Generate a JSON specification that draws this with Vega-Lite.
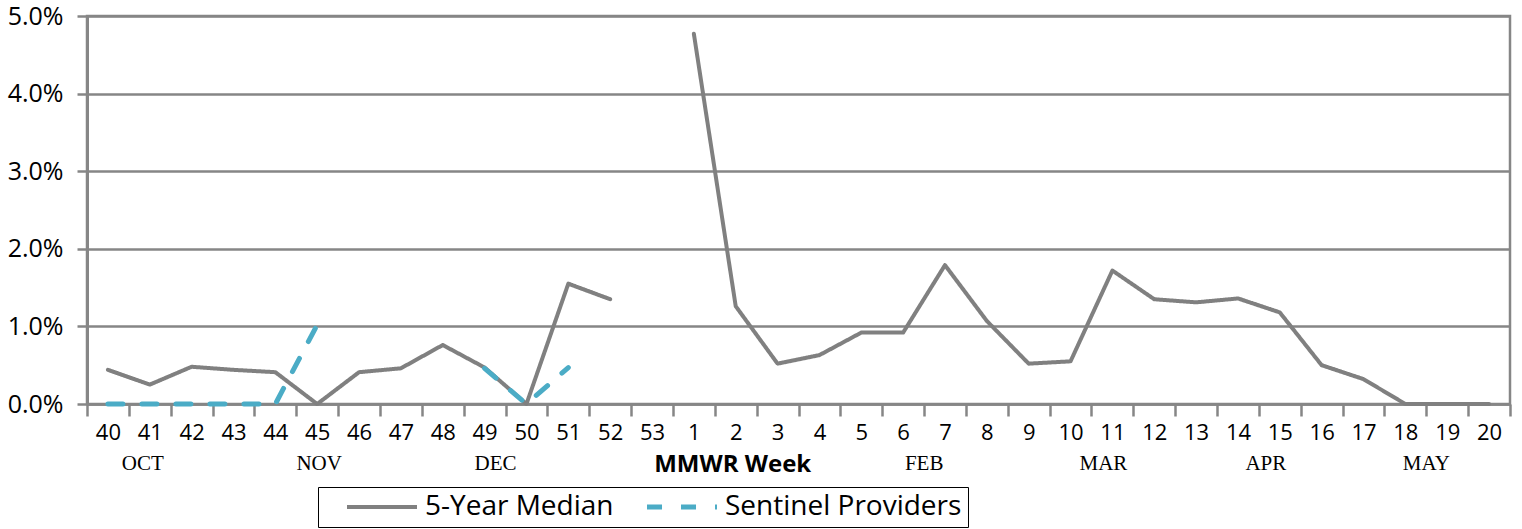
{
  "$schema": "https://vega.github.io/schema/vega-lite/v6.json",
  "width": 1423,
  "height": 388,
  "autosize": {"type": "none"},
  "padding": {"left": 87, "top": 16, "right": 12, "bottom": 125},
  "background": "white",
  "config": {
    "view": {"stroke": "#868686", "strokeWidth": 2.5},
    "font": "Open Sans",
    "legend": {"strokeColor": "black"}
  },
  "data": {
    "values": [
      {"week": "40", "median": 0.0044, "sentinel": 0},
      {"week": "41", "median": 0.0025, "sentinel": 0},
      {"week": "42", "median": 0.0048, "sentinel": 0},
      {"week": "43", "median": 0.0044, "sentinel": 0},
      {"week": "44", "median": 0.0041, "sentinel": 0},
      {"week": "45", "median": 0, "sentinel": 0.0102},
      {"week": "46", "median": 0.0041, "sentinel": null},
      {"week": "47", "median": 0.0046, "sentinel": null},
      {"week": "48", "median": 0.0076, "sentinel": null},
      {"week": "49", "median": 0.0047, "sentinel": 0.0046},
      {"week": "50", "median": 0, "sentinel": 0},
      {"week": "51", "median": 0.0155, "sentinel": 0.0047},
      {"week": "52", "median": 0.0135, "sentinel": null},
      {"week": "53", "median": null, "sentinel": null},
      {"week": "1", "median": 0.0477, "sentinel": null},
      {"week": "2", "median": 0.0126, "sentinel": null},
      {"week": "3", "median": 0.0052, "sentinel": null},
      {"week": "4", "median": 0.0063, "sentinel": null},
      {"week": "5", "median": 0.0092, "sentinel": null},
      {"week": "6", "median": 0.0092, "sentinel": null},
      {"week": "7", "median": 0.0179, "sentinel": null},
      {"week": "8", "median": 0.0107, "sentinel": null},
      {"week": "9", "median": 0.0052, "sentinel": null},
      {"week": "10", "median": 0.0055, "sentinel": null},
      {"week": "11", "median": 0.0172, "sentinel": null},
      {"week": "12", "median": 0.0135, "sentinel": null},
      {"week": "13", "median": 0.0131, "sentinel": null},
      {"week": "14", "median": 0.0136, "sentinel": null},
      {"week": "15", "median": 0.0118, "sentinel": null},
      {"week": "16", "median": 0.005, "sentinel": null},
      {"week": "17", "median": 0.0032, "sentinel": null},
      {"week": "18", "median": 0, "sentinel": null},
      {"week": "19", "median": 0, "sentinel": null},
      {"week": "20", "median": 0, "sentinel": null}
    ]
  },
  "resolve": {"scale": {"x": "independent"}, "axis": {"x": "independent"}},
  "layer": [
    {
      "transform": [{"fold": ["median", "sentinel"], "as": ["series", "pct"]}],
      "mark": {"type": "line", "strokeCap": "round", "strokeJoin": "round", "invalid": "break-paths-show-domains"},
      "encoding": {
        "x": {
          "field": "week",
          "type": "ordinal",
          "scale": {
            "type": "band",
            "paddingInner": 0,
            "paddingOuter": 0,
            "domain": ["40","41","42","43","44","45","46","47","48","49","50","51","52","53","1","2","3","4","5","6","7","8","9","10","11","12","13","14","15","16","17","18","19","20"]
          },
          "axis": {
            "title": null,
            "labelAngle": 0,
            "tickBand": "extent",
            "labelFont": "Open Sans",
            "labelFontSize": 22,
            "labelColor": "black",
            "labelPadding": 6,
            "tickSize": 12,
            "tickColor": "#868686",
            "tickWidth": 2.5,
            "domainColor": "#868686",
            "domainWidth": 2.5,
            "grid": false
          }
        },
        "y": {
          "field": "pct",
          "type": "quantitative",
          "scale": {"domain": [0, 0.05]},
          "axis": {
            "title": null,
            "values": [0, 0.01, 0.02, 0.03, 0.04, 0.05],
            "format": ".1%",
            "labelFont": "Open Sans",
            "labelFontSize": 25,
            "labelColor": "black",
            "labelPadding": 14,
            "tickSize": 10,
            "tickColor": "#868686",
            "tickWidth": 2.5,
            "domainColor": "#868686",
            "domainWidth": 3,
            "gridColor": "#868686",
            "gridWidth": 2.5
          }
        },
        "color": {
          "field": "series",
          "type": "nominal",
          "scale": {"domain": ["median", "sentinel"], "range": ["#808080", "#4BACC6"]},
          "legend": {
            "title": null,
            "orient": "none",
            "direction": "horizontal",
            "legendX": 231,
            "legendY": 471,
            "labelExpr": "datum.value == 'median' ? '5-Year Median' : 'Sentinel Providers'",
            "labelFont": "Open Sans",
            "labelFontSize": 28,
            "labelColor": "black",
            "labelLimit": 500,
            "labelOffset": 29,
            "symbolType": "M-6,0H6",
            "symbolSize": 136,
            "symbolStrokeWidth": 5,
            "symbolOffset": 44,
            "columnPadding": 10,
            "padding": 6,
            "strokeColor": "black"
          }
        },
        "strokeDash": {
          "field": "series",
          "type": "nominal",
          "scale": {"domain": ["median", "sentinel"], "range": [[1, 0], [15, 19]]}
        },
        "strokeWidth": {
          "field": "series",
          "type": "nominal",
          "scale": {"domain": ["median", "sentinel"], "range": [4, 5]},
          "legend": null
        }
      }
    },
    {
      "mark": {"type": "point", "opacity": 0},
      "encoding": {
        "x": {
          "field": "week",
          "type": "ordinal",
          "scale": {
            "type": "band",
            "paddingInner": 0,
            "paddingOuter": 0,
            "domain": ["40","41","42","43","44","45","46","47","48","49","50","51","52","53","1","2","3","4","5","6","7","8","9","10","11","12","13","14","15","16","17","18","19","20"]
          },
          "axis": {
            "orient": "bottom",
            "title": null,
            "offset": 44,
            "domain": false,
            "ticks": false,
            "grid": false,
            "labelAngle": 0,
            "labelPadding": 4,
            "labelColor": "black",
            "labelExpr": "datum.value == '41' ? 'OCT' : datum.value == '45' ? 'NOV' : datum.value == '49' ? 'DEC' : datum.value == '2' ? 'MMWR Week' : datum.value == '6' ? 'FEB' : datum.value == '11' ? 'MAR' : datum.value == '15' ? 'APR' : datum.value == '18' ? 'MAY' : ''",
            "labelFont": {"condition": {"test": "datum.value == '2'", "value": "Open Sans"}, "value": "Liberation Serif"},
            "labelFontWeight": {"condition": {"test": "datum.value == '2'", "value": "bold"}, "value": "normal"},
            "labelFontSize": {"condition": {"test": "datum.value == '2'", "value": 24}, "value": 21},
            "labelOffset": {
              "condition": [
                {"test": "datum.value == '41'", "value": -7},
                {"test": "datum.value == '45'", "value": 2},
                {"test": "datum.value == '49'", "value": 11},
                {"test": "datum.value == '2'", "value": -3},
                {"test": "datum.value == '6'", "value": 21},
                {"test": "datum.value == '11'", "value": -9},
                {"test": "datum.value == '15'", "value": -14},
                {"test": "datum.value == '18'", "value": 21}
              ],
              "value": 0
            }
          }
        }
      }
    }
  ]
}
